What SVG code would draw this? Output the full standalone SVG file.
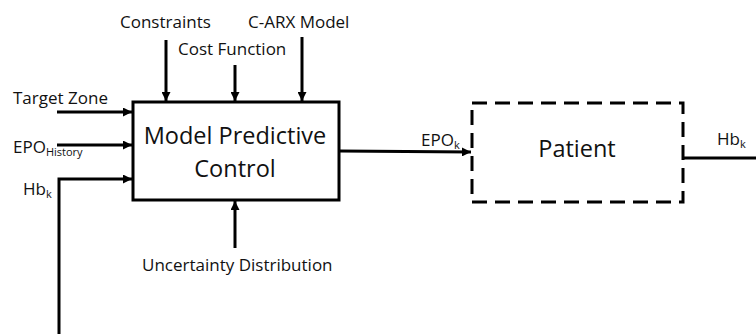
<svg xmlns="http://www.w3.org/2000/svg" width="756" height="334" viewBox="0 0 756 334">
<style>
text{font-family:"Open Sans","Liberation Sans",sans-serif;fill:#111}
.lbl{font-size:17px}
.big{font-size:23.5px}
.sub{font-size:11px}
.ln{stroke:#000;stroke-width:3;fill:none}
</style>
<defs>
<marker id="ah" viewBox="0 0 10 10" refX="10" refY="5" markerWidth="3" markerHeight="3" orient="auto" markerUnits="strokeWidth">
<path d="M0,0 L10,5 L0,10 z" fill="#000"/>
</marker>
</defs>
<rect width="756" height="334" fill="#fff"/>
<g id="connectors">
<line class="ln" x1="166" y1="40" x2="166" y2="101" marker-end="url(#ah)"/>
<line class="ln" x1="235" y1="65" x2="235" y2="101" marker-end="url(#ah)"/>
<line class="ln" x1="302" y1="37" x2="302" y2="101" marker-end="url(#ah)"/>
<line class="ln" x1="57" y1="112" x2="132" y2="112" marker-end="url(#ah)"/>
<line class="ln" x1="57" y1="145" x2="132" y2="145" marker-end="url(#ah)"/>
<polyline class="ln" points="59,334 59,179 132,179" marker-end="url(#ah)"/>
<line class="ln" x1="235" y1="248" x2="235" y2="201" marker-end="url(#ah)"/>
<line class="ln" x1="340" y1="151" x2="471" y2="152" marker-end="url(#ah)"/>
<line class="ln" x1="683" y1="158" x2="756" y2="158"/>
</g>
<g id="mpc">
<rect x="133" y="102" width="206" height="98" fill="#fff" stroke="#000" stroke-width="3"/>
<text class="big" x="235" y="144" text-anchor="middle">Model Predictive</text>
<text class="big" x="235" y="177" text-anchor="middle">Control</text>
</g>
<g id="patient">
<rect x="472" y="103" width="211" height="99" fill="none" stroke="#000" stroke-width="3" stroke-dasharray="15,8"/>
<text class="big" x="577" y="157" text-anchor="middle">Patient</text>
</g>
<g id="labels">
<text class="lbl" x="120" y="28">Constraints</text>
<text class="lbl" x="178" y="55">Cost Function</text>
<text class="lbl" x="248" y="28">C-ARX Model</text>
<text class="lbl" x="13" y="104">Target Zone</text>
<text class="lbl" x="13" y="153">EPO<tspan class="sub" dy="3">History</tspan></text>
<text class="lbl" x="23" y="195">Hb<tspan class="sub" dy="3">k</tspan></text>
<text class="lbl" x="142" y="271">Uncertainty Distribution</text>
<text class="lbl" x="421" y="146">EPO<tspan class="sub" dy="3">k</tspan></text>
<text class="lbl" x="717" y="145">Hb<tspan class="sub" dy="3">k</tspan></text>
</g>
</svg>
